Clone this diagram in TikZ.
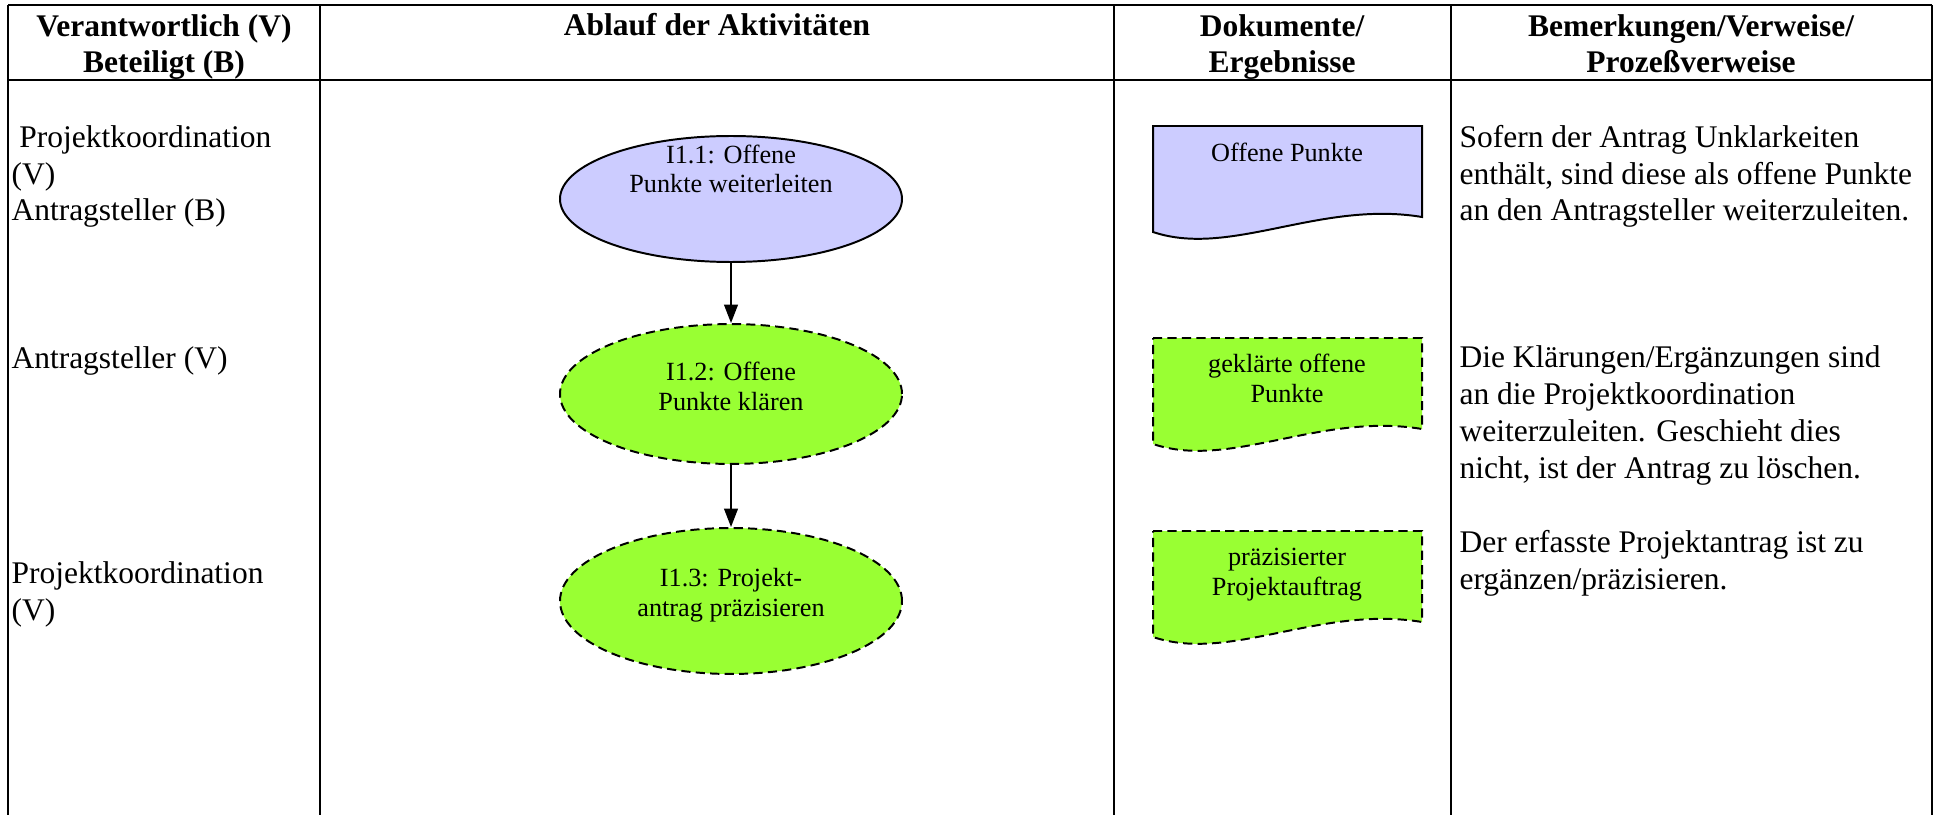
\documentclass[tikz,border=0pt]{standalone}
\usepackage{fontspec}
\setmainfont{Liberation Serif}
\usetikzlibrary{shapes.geometric,arrows.meta}
\definecolor{lav}{RGB}{204,204,255}
\definecolor{grn}{RGB}{153,255,51}
\tikzset{
  hline/.style={line width=1.1pt},
  vline/.style={line width=0.9pt},
  bigtxt/.style={font=\fontsize{12}{14}\selectfont, inner sep=0pt, align=left, anchor=base west},
  hdr/.style={font=\fontsize{12}{14}\selectfont\bfseries, inner sep=0pt, align=center, anchor=base},
  smalltxt/.style={font=\fontsize{10}{11.4}\selectfont, inner sep=0pt, align=center, anchor=base},
  blueshape/.style={draw, fill=lav, line width=0.75pt},
  greenshape/.style={draw, fill=grn, line width=0.75pt, dash pattern=on 3.5pt off 2pt},
  ell/.style={ellipse, inner sep=0pt, minimum width=130.3pt},
  flow/.style={-{Triangle[width=5.2pt,length=7pt]}, line width=0.75pt}
}
\begin{document}
\begin{tikzpicture}[x=0.381pt,y=-0.381pt]
\useasboundingbox (0,0) rectangle (1937,815);
% table
\draw[hline] (8,5) -- (1932,5);
\draw[hline] (8,80) -- (1932,80);
\draw[vline] (8,5) -- (8,815);
\draw[vline] (320,5) -- (320,815);
\draw[vline] (1114,5) -- (1114,815);
\draw[vline] (1451,5) -- (1451,815);
\draw[vline] (1932,5) -- (1932,815);
% header (base anchor = last line)
\node[hdr] (h1) at (164,73) {Verantwortlich (V)\\Beteiligt (B)};
\node[hdr] (h2) at (717,36) {Ablauf der Aktivitäten};
\node[hdr] (h3) at (1282,73) {Dokumente/\\Ergebnisse};
\node[hdr] (h4) at (1691,73) {Bemerkungen/Verweise/\\Prozeßverweise};
% left column
\node[bigtxt] (l1) at (11,221) {\hspace{0.25em}Projektkoordination\\(V)\\Antragsteller (B)};
\node[bigtxt] (l2) at (11,368) {Antragsteller (V)};
\node[bigtxt] (l3) at (11,620) {Projektkoordination\\(V)};
% ellipses
\node[ell, blueshape, minimum height=48pt] (e1) at (731,199) {};
\node[ell, greenshape, minimum height=53.3pt] (e2) at (731,394) {};
\node[ell, greenshape, minimum height=55.6pt] (e3) at (731,601) {};
\node[smalltxt] (t1) at (731,193) {I1.1: Offene\\Punkte weiterleiten};
\node[smalltxt] (t2) at (731,410) {I1.2: Offene\\Punkte klären};
\node[smalltxt] (t3) at (731,616) {I1.3: Projekt-\\antrag präzisieren};
\draw[flow] (e1.south) -- (e2.north);
\draw[flow] (e2.south) -- (e3.north);
% documents
\draw[blueshape] (1153,126) -- (1422,126) -- (1422,217) .. controls (1320,200) and (1230,258) .. (1153,232) -- cycle;
\draw[greenshape] (1153,338) -- (1422,338) -- (1422,429) .. controls (1320,412) and (1230,470) .. (1153,444) -- cycle;
\draw[greenshape] (1153,531) -- (1422,531) -- (1422,622) .. controls (1320,605) and (1230,663) .. (1153,637) -- cycle;
\node[smalltxt] (d1) at (1287,162) {Offene Punkte};
\node[smalltxt] (d2) at (1287,402) {geklärte offene\\Punkte};
\node[smalltxt] (d3) at (1287,595) {präzisierter\\Projektauftrag};
% remarks
\node[bigtxt] (r1) at (1459,221) {Sofern der Antrag Unklarkeiten\\enthält, sind diese als offene Punkte\\an den Antragsteller weiterzuleiten.};
\node[bigtxt] (r2) at (1459,478) {Die Klärungen/Ergänzungen sind\\an die Projektkoordination\\weiterzuleiten. Geschieht dies\\nicht, ist der Antrag zu löschen.};
\node[bigtxt] (r3) at (1459,589) {Der erfasste Projektantrag ist zu\\ergänzen/präzisieren.};
\end{tikzpicture}
\end{document}
